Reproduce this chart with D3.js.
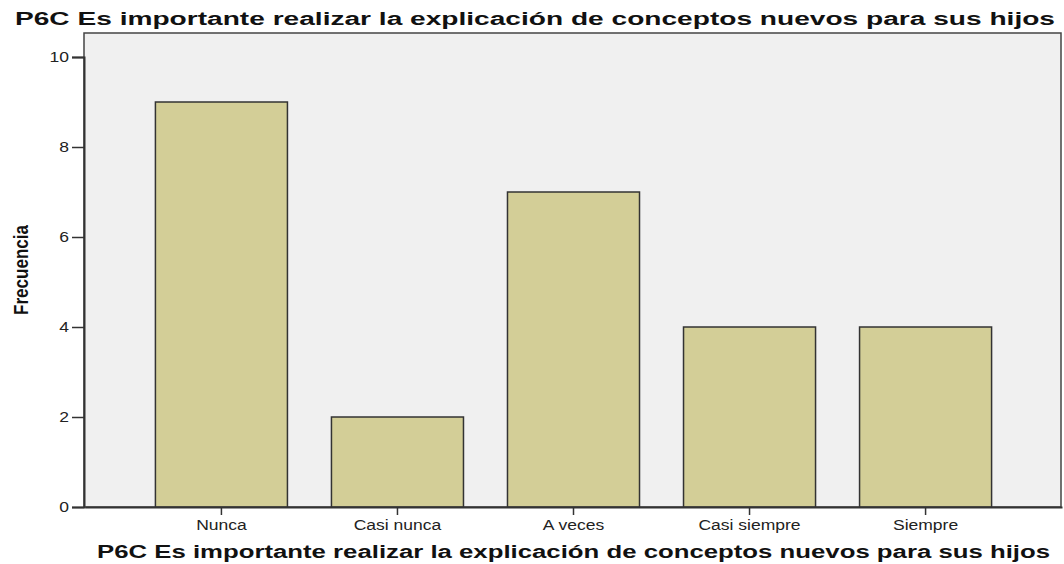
<!DOCTYPE html>
<html><head><meta charset="utf-8">
<script src="https://cdn.jsdelivr.net/npm/d3@7"></script>
<style>body{margin:0;background:#fff}svg{display:block}</style>
</head><body>
<script>
const categories = ["Nunca","Casi nunca","A veces","Casi siempre","Siempre"];
const values = [9,2,7,4,4];
const yTicks = [0,2,4,6,8,10];
const titleText = "P6C Es importante realizar la explicación de conceptos nuevos para sus hijos";
const yTitle = "Frecuencia";

const W=1064,H=564;
const m={left:84,right:1061,top:33,bottom:507};
const svg=d3.select("body").append("svg").attr("width",W).attr("height",H);
const font="'Liberation Sans', Arial, sans-serif";

const x=d3.scaleBand().domain(categories).range([m.left+1,m.right+1]).paddingInner(0.25).paddingOuter(0.4);
const y=d3.scaleLinear().domain([0,10]).range([m.bottom,57]);

svg.append("rect").attr("x",m.left).attr("y",m.top).attr("width",m.right-m.left).attr("height",m.bottom-m.top)
  .attr("fill","#f0f0f0").attr("stroke","#444").attr("stroke-width",1.5);

svg.selectAll(".bar").data(values).enter().append("rect")
  .attr("x",(d,i)=>x(categories[i])).attr("width",x.bandwidth())
  .attr("y",d=>y(d)).attr("height",d=>y(0)-y(d))
  .attr("fill","#d3ce97").attr("stroke","#333").attr("stroke-width",1.5);

function stretch(sel,f){
  sel.each(function(){const w=this.getComputedTextLength();d3.select(this).attr("textLength",w*f).attr("lengthAdjust","spacingAndGlyphs");});
}

const ya=svg.append("g").attr("transform",`translate(${m.left},0)`)
  .call(d3.axisLeft(y).tickValues(yTicks).tickSize(12).tickPadding(3).tickFormat(d3.format("d")));
ya.select(".domain").attr("stroke","#333").attr("stroke-width",2);
ya.selectAll(".tick line").attr("stroke","#333").attr("stroke-width",1.5);
ya.selectAll("text").attr("font-family",font).attr("font-size",14).attr("fill","#222").call(stretch,1.25);

const xa=svg.append("g").attr("transform",`translate(0,${m.bottom})`)
  .call(d3.axisBottom(x).tickSize(8).tickPadding(5).tickSizeOuter(0));
xa.select(".domain").attr("stroke","#333").attr("stroke-width",2);
xa.selectAll(".tick line").attr("stroke","#333").attr("stroke-width",1.5);
xa.selectAll("text").attr("font-family",font).attr("font-size",14).attr("fill","#222").call(stretch,1.25);

svg.append("text").attr("x",15).attr("y",25).attr("font-family",font).attr("font-weight","bold")
  .attr("font-size",18).attr("textLength",1040).attr("lengthAdjust","spacingAndGlyphs").attr("fill","#111").text(titleText);

svg.append("text").attr("x",97).attr("y",558).attr("font-family",font).attr("font-weight","bold")
  .attr("font-size",18).attr("textLength",953).attr("lengthAdjust","spacingAndGlyphs").attr("fill","#111").text(titleText);

svg.append("text").attr("transform","translate(28,270) rotate(-90)").attr("text-anchor","middle")
  .attr("font-family",font).attr("font-weight","bold").attr("font-size",20)
  .attr("textLength",90).attr("lengthAdjust","spacingAndGlyphs").attr("fill","#111").text(yTitle);
</script>
</body></html>
